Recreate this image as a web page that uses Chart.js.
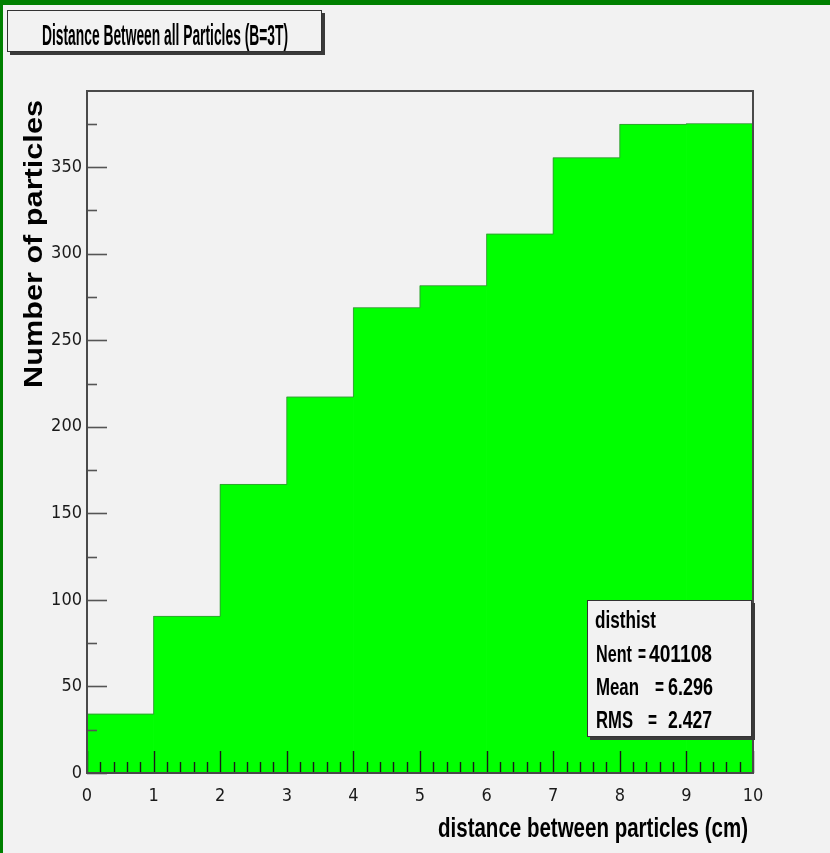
<!DOCTYPE html>
<html>
<head>
<meta charset="utf-8">
<title>Distance Between all Particles (B=3T)</title>
<script src="https://cdn.jsdelivr.net/npm/chart.js@4/dist/chart.umd.min.js"></script>
<style>
  html, body { margin: 0; padding: 0; background: #f2f2f2; }
  #wrap { width: 830px; height: 853px; position: relative; }
  canvas { display: block; }
</style>
</head>
<body>
<div id="wrap"><canvas id="c" width="830" height="853"></canvas></div>
<script>
// Histogram "disthist": bin edges (cm) and entries per bin
const BIN_EDGES = [0, 1, 2, 3, 4, 5, 6, 7, 8, 9, 10];
const COUNTS = [34, 90.5, 166.7, 217.2, 268.8, 281.5, 311.3, 355.4, 374.7, 375.1];
const X_TICKS = [0, 1, 2, 3, 4, 5, 6, 7, 8, 9, 10];
const Y_TICKS = [0, 50, 100, 150, 200, 250, 300, 350];
const Y_MAX = 394;

const TITLE = 'Distance Between all Particles (B=3T)';
const X_TITLE = 'distance between particles (cm)';
const Y_TITLE = 'Number of particles';
const STATS_NAME = 'disthist';
const STATS_ROWS = [
  ['Nent', '401108'],
  ['Mean', '6.296'],
  ['RMS', '2.427']
];

const NARROW = "'Liberation Sans Narrow', 'DejaVu Sans Condensed', 'Liberation Sans', sans-serif";
const SANS = "'Liberation Sans', Arial, sans-serif";

// bar points at bin centres; outline as a stepped line: bin i's level runs from edge i to edge i+1
const barPoints = COUNTS.map((v, i) => ({ x: (BIN_EDGES[i] + BIN_EDGES[i + 1]) / 2, y: v }));
const outlinePoints = BIN_EDGES.map((e, i) => ({ x: e, y: COUNTS[Math.max(0, Math.min(i - 1, COUNTS.length - 1))] }));

// draw text squeezed/stretched horizontally to span [x0, x1]
function spanText(ctx, text, x0, x1, baseline, font, color) {
  ctx.save();
  ctx.font = font;
  ctx.fillStyle = color || '#000';
  ctx.textBaseline = 'alphabetic';
  ctx.textAlign = 'left';
  const w = ctx.measureText(text).width;
  ctx.translate(x0, baseline);
  ctx.scale((x1 - x0) / w, 1);
  ctx.fillText(text, 0, 0);
  ctx.restore();
}

function shadowBox(ctx, x0, y0, x1, y1, sh) {
  ctx.save();
  ctx.fillStyle = '#3a3a3a';
  ctx.fillRect(x0 + sh, y0 + sh, x1 - x0, y1 - y0);
  ctx.fillStyle = '#f2f2f2';
  ctx.fillRect(x0, y0, x1 - x0, y1 - y0);
  ctx.strokeStyle = '#333';
  ctx.lineWidth = 1;
  ctx.strokeRect(x0 + 0.5, y0 + 0.5, x1 - x0 - 1, y1 - y0 - 1);
  ctx.restore();
}

const canvasBackground = {
  id: 'canvasBackground',
  beforeDraw(chart) {
    const ctx = chart.ctx;
    ctx.save();
    ctx.fillStyle = '#f2f2f2';
    ctx.fillRect(0, 0, chart.width, chart.height);
    ctx.fillStyle = '#008000';
    ctx.fillRect(0, 0, chart.width, 5);
    ctx.fillRect(0, 0, 3, chart.height);
    ctx.restore();
  }
};

const rootFrame = {
  id: 'rootFrame',
  afterDatasetsDraw(chart) {
    const ctx = chart.ctx;
    const a = chart.chartArea;
    const xs = chart.scales.x, ys = chart.scales.y;
    ctx.save();
    // inward y ticks: major every 50, minor every 25
    ctx.strokeStyle = '#555';
    ctx.lineWidth = 1.6;
    for (let v = 0; v <= Y_MAX; v += 25) {
      const y = Math.round(ys.getPixelForValue(v)) + 0.5;
      const len = (v % 50 === 0) ? 20 : 10;
      ctx.beginPath();
      ctx.moveTo(a.left, y);
      ctx.lineTo(a.left + len, y);
      ctx.stroke();
    }
    // inward x ticks: major every 1, minor every 0.2
    ctx.strokeStyle = '#1a1a1a';
    ctx.lineWidth = 1.4;
    for (let k = 0; k <= 50; k++) {
      const v = k / 5;
      const x = Math.round(xs.getPixelForValue(v)) + 0.5;
      const len = (k % 5 === 0) ? 22 : 11;
      ctx.beginPath();
      ctx.moveTo(x, a.bottom);
      ctx.lineTo(x, a.bottom - len);
      ctx.stroke();
    }
    // frame
    ctx.strokeStyle = '#4a4a4a';
    ctx.lineWidth = 2;
    ctx.strokeRect(a.left, a.top, a.right - a.left, a.bottom - a.top);
    ctx.restore();
  },
  afterDraw(chart) {
    const ctx = chart.ctx;
    // title box
    shadowBox(ctx, 7, 10, 322, 52, 3);
    spanText(ctx, TITLE, 42, 288, 45, 'bold 29px ' + SANS, '#000');

    // axis titles
    spanText(ctx, X_TITLE, 438, 748, 837, 'bold 27px ' + SANS, '#000');
    ctx.save();
    ctx.translate(42, 388);
    ctx.rotate(-Math.PI / 2);
    spanText(ctx, Y_TITLE, 0, 288, 0, 'bold 26px ' + SANS, '#000');
    ctx.restore();

    // statistics box
    shadowBox(ctx, 587, 600, 752, 737, 3);
    const f = 'bold 23px ' + SANS;
    spanText(ctx, STATS_NAME, 595, 656, 628, f);
    const rows = [
      { base: 662, lab: [596, 632], eq: [638, 646], val: [649, 712] },
      { base: 695, lab: [596, 639], eq: [655, 664], val: [668, 713] },
      { base: 728, lab: [596, 633], eq: [648, 657], val: [668, 712] }
    ];
    rows.forEach((r, i) => {
      spanText(ctx, STATS_ROWS[i][0], r.lab[0], r.lab[1], r.base, f);
      spanText(ctx, '=', r.eq[0], r.eq[1], r.base, f);
      spanText(ctx, STATS_ROWS[i][1], r.val[0], r.val[1], r.base, f);
    });
  }
};

new Chart(document.getElementById('c'), {
  type: 'bar',
  data: {
    datasets: [
      {
        type: 'line',
        label: 'outline',
        data: outlinePoints,
        stepped: 'after',
        borderColor: 'rgba(90,90,90,0.55)',
        borderWidth: 1,
        pointRadius: 0,
        fill: false,
        order: 0
      },
      {
        type: 'bar',
        label: 'disthist',
        data: barPoints,
        backgroundColor: '#00ff00',
        borderWidth: 0,
        barPercentage: 1,
        categoryPercentage: 1,
        order: 1
      }
    ]
  },
  options: {
    responsive: false,
    animation: false,
    devicePixelRatio: 1,
    layout: { padding: { left: 3, right: 77, top: 91, bottom: 50 } },
    plugins: { legend: { display: false }, tooltip: { enabled: false }, title: { display: false } },
    scales: {
      x: {
        type: 'linear',
        min: 0,
        max: 10,
        offset: false,
        grid: { display: false, drawTicks: false, offset: false },
        border: { display: false },
        afterBuildTicks: (s) => { s.ticks = X_TICKS.map(v => ({ value: v })); },
        afterFit: (s) => { s.height = 30; },
        ticks: {
          padding: 13,
          maxRotation: 0,
          autoSkip: false,
          color: '#1a1a1a',
          font: { family: NARROW, size: 18 },
          callback: (v) => String(v)
        }
      },
      y: {
        type: 'linear',
        min: 0,
        max: Y_MAX,
        grid: { display: false, drawTicks: false },
        border: { display: false },
        afterBuildTicks: (s) => { s.ticks = Y_TICKS.map(v => ({ value: v })); },
        afterFit: (s) => { s.width = 84; },
        ticks: {
          padding: 5,
          autoSkip: false,
          color: '#1a1a1a',
          font: { family: NARROW, size: 18 },
          callback: (v) => String(v)
        }
      }
    }
  },
  plugins: [canvasBackground, rootFrame]
});
</script>
</body>
</html>
